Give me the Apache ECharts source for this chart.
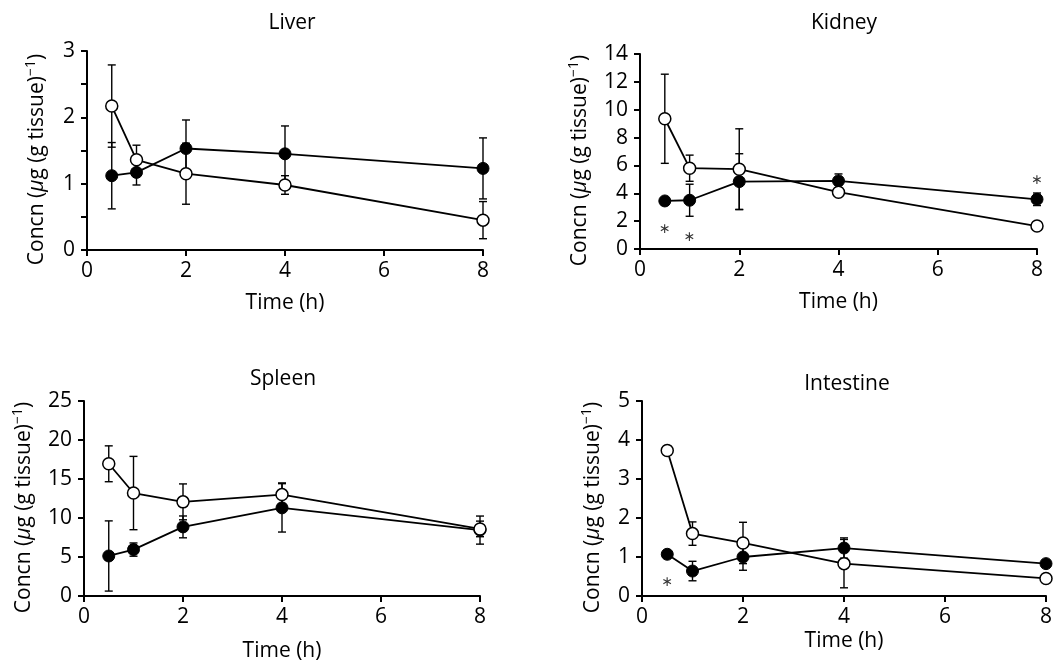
<!DOCTYPE html>
<html>
<head>
<meta charset="utf-8">
<script src="https://cdn.jsdelivr.net/npm/echarts@6/dist/echarts.min.js"></script>
<style>
html, body { margin: 0; padding: 0; background: #fff; }
#chart { width: 1055px; height: 663px; }
</style>
</head>
<body>
<div id="chart"></div>
<script>
// sampling times (h)
const times = [0.5, 1, 2, 4, 8]

// mean and SD, filled circles and open circles
const liverFilled = [1.12, 1.17, 1.53, 1.45, 1.23]
const liverFilledSD = [0.5, 0.19, 0.43, 0.42, 0.46]
const liverOpen = [2.17, 1.36, 1.15, 0.98, 0.45]
const liverOpenSD = [0.62, 0.22, 0.46, 0.14, 0.28]

const kidneyFilled = [3.45, 3.5, 4.84, 4.89, 3.57]
const kidneyFilledSD = [0.2, 1.15, 2.0, 0.5, 0.45]
const kidneyOpen = [9.35, 5.8, 5.73, 4.08, 1.65]
const kidneyOpenSD = [3.2, 0.94, 2.9, 0.2, 0.3]

const spleenFilled = [5.13, 5.95, 8.86, 11.3, 8.45]
const spleenFilledSD = [4.5, 0.85, 1.4, 3.1, 1.8]
const spleenOpen = [16.95, 13.2, 12.07, 13.0, 8.6]
const spleenOpenSD = [2.3, 4.7, 2.3, 1.5, 1.0]

const intestineFilled = [1.07, 0.64, 1.0, 1.23, 0.83]
const intestineFilledSD = [0.08, 0.25, 0.34, 0.26, 0.07]
const intestineOpen = [3.73, 1.6, 1.36, 0.83, 0.45]
const intestineOpenSD = [0.12, 0.3, 0.53, 0.62, 0.06]

// significance markers [time, y]
const kidneyStars = [[0.5, 1.4], [1, 0.8], [8, 4.95]]
const intestineStars = [[0.5, 0.34]]

const xTicks = { min: 0, max: 8, interval: 2 }

const panels = [
  { title: 'Liver', filled: liverFilled, filledSD: liverFilledSD, open: liverOpen, openSD: liverOpenSD, yMax: 3, yInterval: 0.5, stars: [] },
  { title: 'Kidney', filled: kidneyFilled, filledSD: kidneyFilledSD, open: kidneyOpen, openSD: kidneyOpenSD, yMax: 14, yInterval: 2, stars: kidneyStars },
  { title: 'Spleen', filled: spleenFilled, filledSD: spleenFilledSD, open: spleenOpen, openSD: spleenOpenSD, yMax: 25, yInterval: 5, stars: [] },
  { title: 'Intestine', filled: intestineFilled, filledSD: intestineFilledSD, open: intestineOpen, openSD: intestineOpenSD, yMax: 5, yInterval: 1, stars: intestineStars }
]

// layout of each panel
const layout = [
  { grid: { left: 87, right: 572, top: 51, bottom: 413 }, titleX: 287, titleY: 8, yGap: 37, xGap: 43 },
  { grid: { left: 640, right: 18, top: 54, bottom: 414 }, titleX: 839, titleY: 8, yGap: 47, xGap: 43 },
  { grid: { left: 84, right: 575, top: 401, bottom: 67 }, titleX: 278, titleY: 364, yGap: 47, xGap: 45 },
  { grid: { left: 642, right: 6, top: 401, bottom: 67 }, titleX: 842, titleY: 369, yGap: 36, xGap: 35 }
]

const font = 'Open Sans'
const fs = 21
const black = '#000'

function errorBars(gridIndex, vals, sd) {
  return {
    type: 'custom',
    xAxisIndex: gridIndex,
    yAxisIndex: gridIndex,
    silent: true,
    data: times.map((t, i) => [t, vals[i], sd[i]]),
    renderItem(params, api) {
      const x = api.value(0)
      const y = api.value(1)
      const e = api.value(2)
      const top = api.coord([x, y + e])
      const bot = api.coord([x, y - e])
      const w = 4
      const style = { stroke: black, lineWidth: 1.4 }
      return {
        type: 'group',
        children: [
          { type: 'line', shape: { x1: top[0], y1: top[1], x2: bot[0], y2: bot[1] }, style },
          { type: 'line', shape: { x1: top[0] - w, y1: top[1], x2: top[0] + w, y2: top[1] }, style },
          { type: 'line', shape: { x1: bot[0] - w, y1: bot[1], x2: bot[0] + w, y2: bot[1] }, style }
        ]
      }
    }
  }
}

function lineSeries(gridIndex, vals, open) {
  return {
    type: 'line',
    xAxisIndex: gridIndex,
    yAxisIndex: gridIndex,
    data: times.map((t, i) => [t, vals[i]]),
    symbol: 'circle',
    symbolSize: 12,
    lineStyle: { color: black, width: 1.8 },
    itemStyle: open
      ? { color: '#fff', borderColor: black, borderWidth: 1.5 }
      : { color: black, borderColor: black, borderWidth: 1 },
    z: open ? 4 : 3
  }
}

const option = {
  animation: false,
  backgroundColor: '#fff',
  textStyle: { fontFamily: font, color: black },
  title: panels.map((p, i) => ({
    text: p.title,
    left: layout[i].titleX,
    top: layout[i].titleY,
    textAlign: 'center',
    textStyle: { fontFamily: font, fontSize: fs, fontWeight: 'normal', color: black }
  })),
  grid: layout.map(l => l.grid),
  xAxis: panels.map((p, i) => ({
    gridIndex: i,
    type: 'value',
    min: xTicks.min,
    max: xTicks.max,
    interval: xTicks.interval,
    name: 'Time (h)',
    nameLocation: 'middle',
    nameGap: layout[i].xGap,
    nameTextStyle: { fontFamily: font, fontSize: fs, color: black },
    axisLine: { lineStyle: { color: black, width: 2 } },
    axisTick: { length: 6, lineStyle: { color: black, width: 2 } },
    axisLabel: { fontFamily: font, fontSize: fs, color: black, margin: 11 },
    splitLine: { show: false }
  })),
  yAxis: panels.map((p, i) => ({
    gridIndex: i,
    type: 'value',
    min: 0,
    max: p.yMax,
    interval: p.yInterval,
    name: 'Concn ({i|μ}g (g tissue){s|−1})',
    nameLocation: 'middle',
    nameGap: layout[i].yGap,
    nameRotate: 90,
    nameTextStyle: {
      fontFamily: font,
      fontSize: fs,
      color: black,
      padding: [0, 18, 0, 0],
      rich: {
        i: { fontFamily: font, fontSize: fs, fontStyle: 'italic', color: black },
        s: { fontFamily: font, fontSize: 14, color: black, verticalAlign: 'top', lineHeight: 26 }
      }
    },
    axisLine: { show: true, lineStyle: { color: black, width: 2 } },
    axisTick: { show: true, length: 6, lineStyle: { color: black, width: 2 } },
    axisLabel: {
      fontFamily: font,
      fontSize: fs,
      color: black,
      margin: 12,
      formatter: v => (Number.isInteger(v) ? String(v) : '')
    },
    splitLine: { show: false }
  })),
  series: []
}

panels.forEach((p, i) => {
  option.series.push(errorBars(i, p.filled, p.filledSD))
  option.series.push(errorBars(i, p.open, p.openSD))
  option.series.push(lineSeries(i, p.filled, false))
  option.series.push(lineSeries(i, p.open, true))
  if (p.stars.length) {
    option.series.push({
      type: 'scatter',
      xAxisIndex: i,
      yAxisIndex: i,
      data: p.stars,
      symbolSize: 1,
      itemStyle: { color: 'rgba(0,0,0,0)' },
      label: {
        show: true,
        position: 'inside',
        formatter: '∗',
        fontFamily: 'DejaVu Sans',
        fontSize: 14,
        color: black
      },
      silent: true
    })
  }
})

const chart = echarts.init(document.getElementById('chart'))
chart.setOption(option)
</script>
</body>
</html>
